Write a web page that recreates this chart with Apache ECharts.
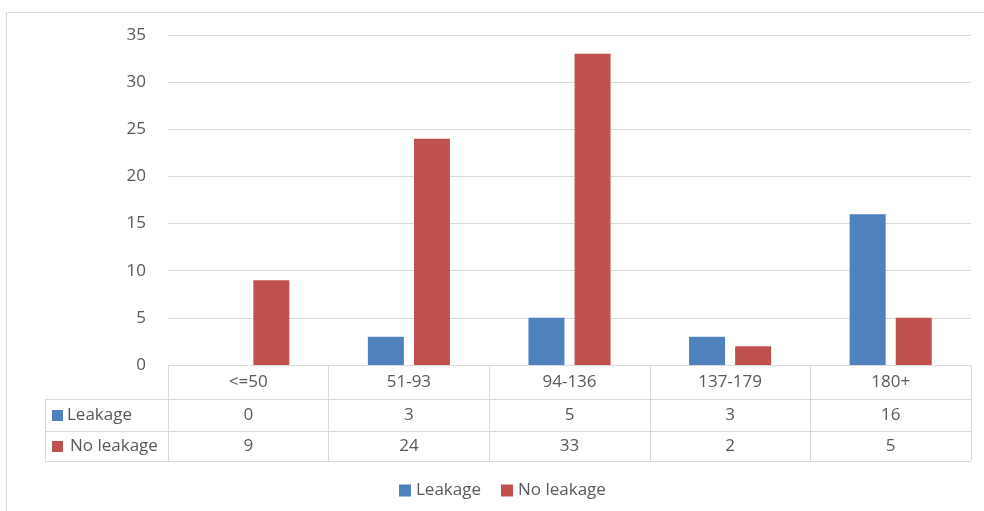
<!DOCTYPE html>
<html>
<head>
<meta charset="utf-8">
<script src="https://cdn.jsdelivr.net/npm/echarts@6/dist/echarts.min.js"></script>
<style>
  html, body { margin: 0; padding: 0; background: #ffffff; }
  #chart { width: 984px; height: 511px; }
</style>
</head>
<body>
<div id="chart"></div>
<script>
// Size bands and counts per outcome
const categories = ['<=50', '51-93', '94-136', '137-179', '180+'];
const leakage = [0, 3, 5, 3, 16];
const noLeakage = [9, 24, 33, 2, 5];
const seriesNames = ['Leakage', 'No leakage'];
const yTicks = { min: 0, max: 35, interval: 5 };

const BLUE = '#4F81BD';
const RED = '#C0504D';
const TEXT = '#595959';
const LINE = '#D9D9D9';
const FONT = '"Open Sans", "Noto Sans", sans-serif';
const FS = 17;

const chart = echarts.init(document.getElementById('chart'), null, { renderer: 'canvas' });

const plotLeft = 168, plotRight = 971, plotTop = 35, plotBottom = 365;
const rowLines = [399, 431, 461];
const tableLeft = 45;

chart.setOption({
  animation: false,
  backgroundColor: '#ffffff',
  textStyle: { fontFamily: FONT },
  grid: { left: plotLeft, right: 984 - plotRight, top: plotTop, bottom: 511 - plotBottom, containLabel: false },
  legend: {
    data: seriesNames,
    left: 394,
    top: 477,
    icon: 'rect',
    itemWidth: 12,
    itemHeight: 12,
    itemGap: 20,
    textStyle: { color: TEXT, fontSize: FS, fontFamily: FONT }
  },
  xAxis: {
    type: 'category',
    data: categories,
    axisLine: { show: true, lineStyle: { color: LINE, width: 1 } },
    axisTick: { show: true, alignWithLabel: false, length: rowLines[2] - plotBottom, lineStyle: { color: LINE, width: 1 } },
    axisLabel: { color: TEXT, fontSize: FS, margin: 9, fontFamily: FONT },
    splitLine: { show: false }
  },
  yAxis: {
    type: 'value',
    min: yTicks.min,
    max: yTicks.max,
    interval: yTicks.interval,
    axisLine: { show: false },
    axisTick: { show: false },
    axisLabel: { color: TEXT, fontSize: FS, margin: 22, fontFamily: FONT },
    splitLine: { show: true, lineStyle: { color: LINE, width: 1 } }
  },
  series: [
    {
      name: seriesNames[0], type: 'bar', data: leakage,
      barWidth: 36, barGap: '28%',
      itemStyle: { color: BLUE }
    },
    {
      name: seriesNames[1], type: 'bar', data: noLeakage,
      barWidth: 36,
      itemStyle: { color: RED }
    }
  ]
});

// Data table under the category axis: row lines, row headers and values
const graphics = [];
// outer chart-area border
graphics.push({
  type: 'rect', shape: { x: 6.5, y: 12.5, width: 1000, height: 600 },
  style: { fill: 'none', stroke: LINE, lineWidth: 1 }, silent: true
});
rowLines.forEach(function (y) {
  graphics.push({
    type: 'line', shape: { x1: tableLeft, y1: y + 0.5, x2: plotRight, y2: y + 0.5 },
    style: { stroke: LINE, lineWidth: 1 }, silent: true
  });
});
graphics.push({
  type: 'line', shape: { x1: tableLeft + 0.5, y1: rowLines[0], x2: tableLeft + 0.5, y2: rowLines[2] },
  style: { stroke: LINE, lineWidth: 1 }, silent: true
});

const rows = [
  { name: seriesNames[0], color: BLUE, values: leakage, y0: rowLines[0], y1: rowLines[1], textX: 67 },
  { name: seriesNames[1], color: RED, values: noLeakage, y0: rowLines[1], y1: rowLines[2], textX: 70 }
];
rows.forEach(function (row) {
  const cy = (row.y0 + row.y1) / 2 + 0.5;
  graphics.push({
    type: 'rect', shape: { x: 52, y: cy - 5.5, width: 11, height: 11 },
    style: { fill: row.color }, silent: true
  });
  graphics.push({
    type: 'text', x: row.textX, y: cy,
    style: { text: row.name, fill: TEXT, font: FS + 'px ' + FONT, textAlign: 'left', textVerticalAlign: 'middle' },
    silent: true
  });
  row.values.forEach(function (v, i) {
    const x = chart.convertToPixel({ xAxisIndex: 0 }, categories[i]);
    graphics.push({
      type: 'text', x: x, y: cy,
      style: { text: String(v), fill: TEXT, font: FS + 'px ' + FONT, textAlign: 'center', textVerticalAlign: 'middle' },
      silent: true
    });
  });
});
chart.setOption({ graphic: graphics });
</script>
</body>
</html>
